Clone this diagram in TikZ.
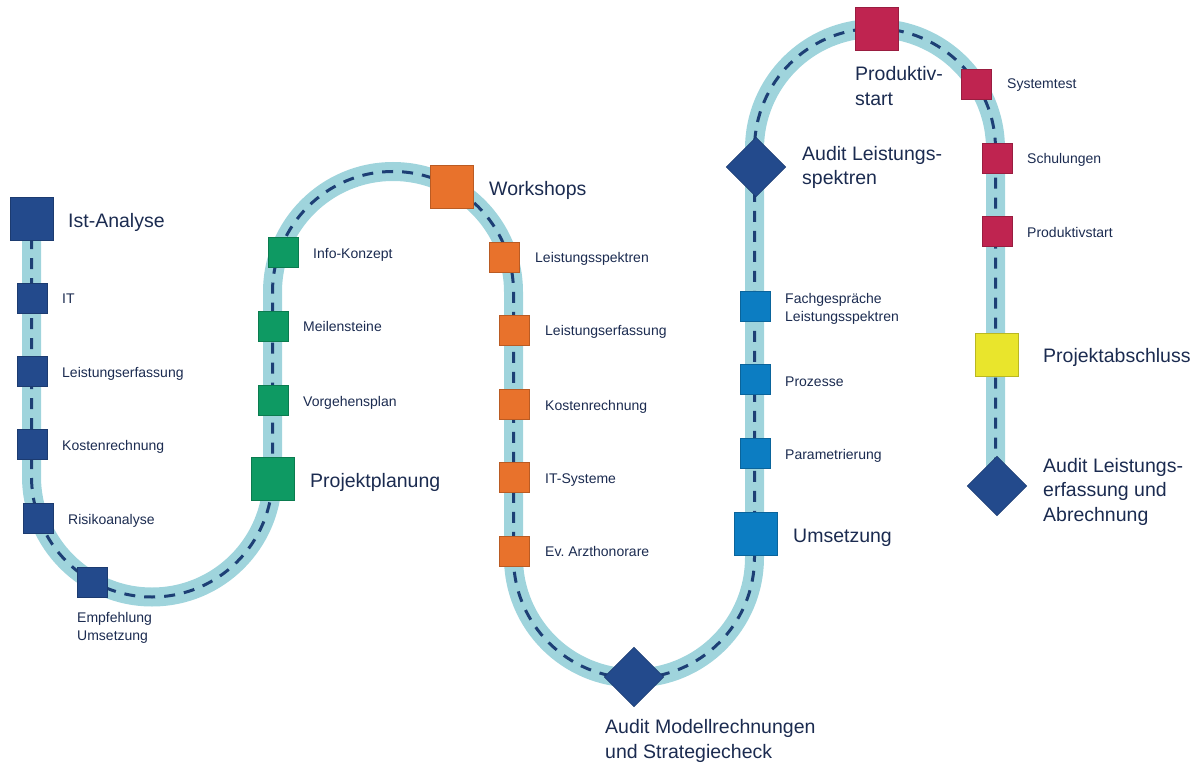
\documentclass[tikz,border=0pt]{standalone}
\usepackage{fontspec}
\setmainfont{Liberation Sans}
\frenchspacing
\definecolor{cNavy}{HTML}{234A8C}
\definecolor{cGreen}{HTML}{0E9A63}
\definecolor{cOrange}{HTML}{E8722C}
\definecolor{cBlue}{HTML}{0C7DC2}
\definecolor{cRed}{HTML}{BF2450}
\definecolor{cYellow}{HTML}{E9E52C}
\definecolor{cTrack}{HTML}{9FD4DC}
\definecolor{cDash}{HTML}{1D3F75}
\definecolor{cText}{HTML}{1B2B50}
\begin{document}
\begin{tikzpicture}[x=1pt,y=-1pt,
  sq/.style={draw=#1!80!black, fill=#1, line width=0.6pt, minimum size=30pt, inner sep=0pt},
  bigsq/.style={sq=#1, minimum size=43pt},
  dia/.style={draw=cNavy!80!black, fill=cNavy, line width=0.6pt, minimum size=42pt, inner sep=0pt, rotate=45},
  lbl/.style={anchor=base west, inner sep=0pt, text=cText, font=\fontsize{14}{18}\selectfont, align=left},
  blbl/.style={lbl, font=\fontsize{19.5}{24.5}\selectfont},
  track/.style={draw=cTrack, line width=19pt},
  dashline/.style={draw=cDash, line width=3pt, dash pattern=on 11pt off 9pt}
]
\useasboundingbox (0,0) rectangle (1200,765);

% the road
\coordinate (p0) at (31.5,218);
\coordinate (p1) at (31.5,476.5);
\coordinate (p2) at (272.5,292);
\coordinate (p3) at (513.5,557.5);
\coordinate (p4) at (754.5,149);
\coordinate (p5) at (995.5,486);
\foreach \sty in {track,dashline}{
  \path[\sty] (p0) -- (p1) arc[start angle=180,end angle=0,radius=120.5]
    -- (p2) arc[start angle=180,end angle=360,radius=120.5]
    -- (p3) arc[start angle=180,end angle=0,radius=120.5]
    -- (p4) arc[start angle=180,end angle=360,radius=120.5]
    -- (p5);
}

% milestones
\node[bigsq=cNavy] (ist) at (31.5,218.5) {};
\node[sq=cNavy] (it) at (32,298) {};
\node[sq=cNavy] (leA) at (32,371) {};
\node[sq=cNavy] (krA) at (32,444) {};
\node[sq=cNavy] (ris) at (38,518) {};
\node[sq=cNavy] (emp) at (92,582) {};

\node[bigsq=cGreen] (pp) at (273,479) {};
\node[sq=cGreen] (vp) at (273,400) {};
\node[sq=cGreen] (ms) at (273,326.5) {};
\node[sq=cGreen] (ik) at (283,252) {};

\node[bigsq=cOrange] (ws) at (452,187) {};
\node[sq=cOrange] (ls) at (504,257) {};
\node[sq=cOrange] (leB) at (514,330) {};
\node[sq=cOrange] (krB) at (514,404) {};
\node[sq=cOrange] (its) at (514,477) {};
\node[sq=cOrange] (ev) at (514,551) {};

\node[dia] (am) at (634,677) {};

\node[sq=cBlue] (fg) at (755,306) {};
\node[sq=cBlue] (pz) at (755,379) {};
\node[sq=cBlue] (pm) at (755,453) {};
\node[bigsq=cBlue] (um) at (755.5,534) {};

\node[dia] (al) at (756,167) {};
\node[bigsq=cRed] (ps) at (876.5,28.5) {};
\node[sq=cRed] (st) at (976,84) {};
\node[sq=cRed] (sch) at (997,158) {};
\node[sq=cRed] (pst) at (997,231) {};
\node[bigsq=cYellow] (pa) at (996.5,355) {};
\node[dia] (ale) at (997,486) {};

% labels (multi-line labels: coordinate is the baseline of the last line)
\node[blbl] (tist) at (68,227) {Ist-Analyse};
\node[lbl] (tit) at (62,303) {IT};
\node[lbl] (tleA) at (62,377) {Leistungserfassung};
\node[lbl] (tkrA) at (62,450) {Kostenrechnung};
\node[lbl] (tris) at (68,524) {Risikoanalyse};
\node[lbl] (temp) at (77,640) {Empfehlung\\Umsetzung};

\node[lbl] (tik) at (313,258) {Info-Konzept};
\node[lbl] (tms) at (303,331) {Meilensteine};
\node[lbl] (tvp) at (303,406) {Vorgehensplan};
\node[blbl] (tpp) at (310,487) {Projektplanung};

\node[blbl] (tws) at (489,195) {Workshops};
\node[lbl] (tls) at (535,262) {Leistungsspektren};
\node[lbl] (tleB) at (545,335) {Leistungserfassung};
\node[lbl] (tkrB) at (545,410) {Kostenrechnung};
\node[lbl] (tits) at (545,483) {IT-Systeme};
\node[lbl] (tev) at (545,556) {Ev. Arzthonorare};

\node[blbl] (tam) at (605,758) {Audit Modellrechnungen\\und Strategiecheck};

\node[lbl] (tfg) at (785,321) {Fachgespräche\\Leistungsspektren};
\node[lbl] (tpz) at (785,386) {Prozesse};
\node[lbl] (tpm) at (785,459) {Parametrierung};
\node[blbl] (tum) at (793,542) {Umsetzung};

\node[blbl] (tal) at (802,184.5) {Audit Leistungs-\\spektren};
\node[blbl] (tps) at (855,105.5) {Produktiv-\\start};
\node[lbl] (tst) at (1007,89) {Systemtest};
\node[lbl] (tsch) at (1027,164) {Schulungen};
\node[lbl] (tpst) at (1027,237) {Produktivstart};
\node[blbl] (tpa) at (1043,362) {Projektabschluss};
\node[blbl] (tale) at (1043,521) {Audit Leistungs-\\erfassung und\\Abrechnung};
\end{tikzpicture}
\end{document}
